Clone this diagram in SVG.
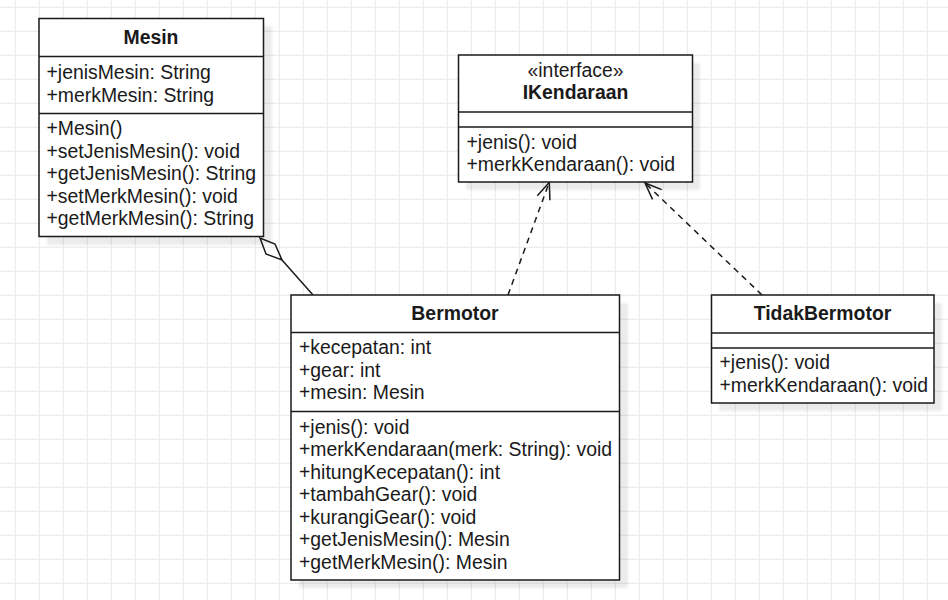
<svg xmlns="http://www.w3.org/2000/svg" width="948" height="600" viewBox="0 0 948 600">
<style>
  .box{fill:#ffffff;stroke:#1a1a1a;stroke-width:1.5}
  .shadow{fill:#000;opacity:0.075}
  .div{stroke:#1a1a1a;stroke-width:1.5;fill:none}
  text{font-family:"Liberation Sans",Arial,sans-serif;font-size:19.4px;fill:#1a1a1a}
  .title{font-weight:bold;text-anchor:middle}
  .mid{text-anchor:middle}
  .edge{stroke:#1a1a1a;stroke-width:1.5;fill:none}
  .dash{stroke-dasharray:6 5}
</style>
<defs>
  <pattern id="grid" patternUnits="userSpaceOnUse" x="14.8" y="6.8" width="24" height="24">
    <path d="M0.5 0V24M0 0.5H24" stroke="#e8e8e8" stroke-width="1" fill="none"/>
  </pattern>
  <filter id="blur" x="-10%" y="-10%" width="120%" height="120%">
    <feGaussianBlur stdDeviation="1.5"/>
  </filter>
</defs>
<rect width="948" height="600" fill="#ffffff"/>
<rect width="948" height="600" fill="url(#grid)"/>

<g id="connectors">
  <g id="aggregation">
    <polygon class="edge" points="260,238 266,254 282,260 275,244"/>
    <line class="edge" x1="282" y1="260" x2="313" y2="295"/>
  </g>
  <g id="realize-bermotor">
    <line class="edge dash" x1="508" y1="295" x2="549" y2="183"/>
    <polyline class="edge" points="537.3,195.7 549.3,182.3 549.9,200.3"/>
  </g>
  <g id="realize-tidakbermotor">
    <line class="edge dash" x1="762" y1="295" x2="645" y2="183"/>
    <polyline class="edge" points="652.5,199.4 645,183 661.7,189.6"/>
  </g>
</g>

<g id="Mesin">
  <rect class="shadow" filter="url(#blur)" x="47" y="26" width="225" height="219"/>
  <rect class="box" x="39" y="18.5" width="224.5" height="218"/>
  <line class="div" x1="39" y1="56.5" x2="263.5" y2="56.5"/>
  <line class="div" x1="39" y1="113.5" x2="263.5" y2="113.5"/>
  <text class="title" x="151" y="43.5">Mesin</text>
  <text x="46.5" y="79">+jenisMesin: String</text>
  <text x="46.5" y="101.5">+merkMesin: String</text>
  <text x="46.5" y="135">+Mesin()</text>
  <text x="46.5" y="157.5">+setJenisMesin(): void</text>
  <text x="46.5" y="180">+getJenisMesin(): String</text>
  <text x="46.5" y="202.5">+setMerkMesin(): void</text>
  <text x="46.5" y="225">+getMerkMesin(): String</text>
</g>

<g id="IKendaraan">
  <rect class="shadow" filter="url(#blur)" x="466" y="63" width="234" height="127"/>
  <rect class="box" x="458.5" y="55" width="234" height="127"/>
  <line class="div" x1="458.5" y1="112" x2="692.5" y2="112"/>
  <line class="div" x1="458.5" y1="127" x2="692.5" y2="127"/>
  <text class="mid" x="575.5" y="76.5">«interface»</text>
  <text class="title" x="575.5" y="99">IKendaraan</text>
  <text x="466.5" y="148.5">+jenis(): void</text>
  <text x="466.5" y="170.5">+merkKendaraan(): void</text>
</g>

<g id="Bermotor">
  <rect class="shadow" filter="url(#blur)" x="299" y="303" width="329" height="285"/>
  <rect class="box" x="291" y="295" width="328.5" height="285"/>
  <line class="div" x1="291" y1="332.5" x2="619.5" y2="332.5"/>
  <line class="div" x1="291" y1="411.5" x2="619.5" y2="411.5"/>
  <text class="title" x="455" y="320">Bermotor</text>
  <text x="299" y="354">+kecepatan: int</text>
  <text x="299" y="376.5">+gear: int</text>
  <text x="299" y="399">+mesin: Mesin</text>
  <text x="299" y="433.5">+jenis(): void</text>
  <text x="299" y="456">+merkKendaraan(merk: String): void</text>
  <text x="299" y="478.5">+hitungKecepatan(): int</text>
  <text x="299" y="501">+tambahGear(): void</text>
  <text x="299" y="523.5">+kurangiGear(): void</text>
  <text x="299" y="546">+getJenisMesin(): Mesin</text>
  <text x="299" y="568.5">+getMerkMesin(): Mesin</text>
</g>

<g id="TidakBermotor">
  <rect class="shadow" filter="url(#blur)" x="719" y="303" width="223" height="108"/>
  <rect class="box" x="711.5" y="295" width="222.5" height="108"/>
  <line class="div" x1="711.5" y1="333" x2="934" y2="333"/>
  <line class="div" x1="711.5" y1="348" x2="934" y2="348"/>
  <text class="title" x="822.5" y="319.5">TidakBermotor</text>
  <text x="719.5" y="368.5">+jenis(): void</text>
  <text x="719.5" y="391.5">+merkKendaraan(): void</text>
</g>
</svg>
